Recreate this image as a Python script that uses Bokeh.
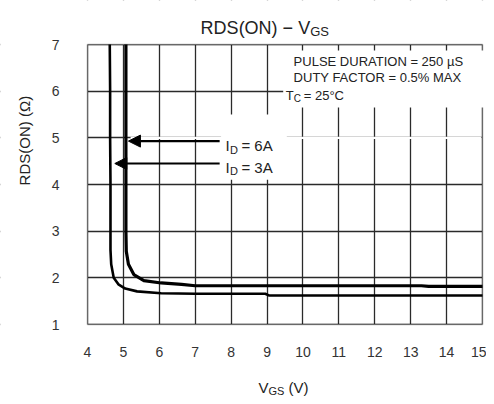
import math
from bokeh.plotting import figure
from bokeh.models import Range1d, FixedTicker, Label, Arrow, NormalHead, BoxAnnotation
from bokeh.embed import file_html
from bokeh.resources import INLINE

# ---- data ----
vgs_3a = [4.62, 4.63, 4.63, 4.64, 4.64, 4.66, 4.73, 4.86, 5.05, 5.38, 6.05, 7.0, 8.0, 8.95, 9.05, 10.0, 12.0, 15.0]
rds_3a = [7.0, 6.0, 5.0, 4.0, 2.6, 2.29, 2.0, 1.86, 1.77, 1.71, 1.67, 1.66, 1.66, 1.66, 1.625, 1.62, 1.62, 1.62]

vgs_6a = [5.07, 5.07, 5.07, 5.08, 5.14, 5.29, 5.57, 6.05, 6.62, 7.0, 9.0, 11.0, 13.3, 13.5, 15.0]
rds_6a = [7.0, 5.0, 3.0, 2.57, 2.29, 2.07, 1.94, 1.89, 1.86, 1.83, 1.83, 1.83, 1.83, 1.815, 1.815]

x_ticks = [4, 5, 6, 7, 8, 9, 10, 11, 12, 13, 14, 15]
y_ticks = [1, 2, 3, 4, 5, 6, 7]

# annotation arrows: (x_start, y, x_tip)
arrow_6a = (7.68, 4.93, 5.14)
arrow_3a = (7.68, 4.45, 4.76)

FONT = "Liberation Sans"
TXT = "#222222"

# ---- layout: the frame fills the canvas; the data area 4..15 x 1..7 sits inside it
W, H = 486, 396
L, R, T, B = 87, 482, 44, 324          # data-area edges in canvas pixels
xu = (R - L) / (x_ticks[-1] - x_ticks[0])
yu = (B - T) / (y_ticks[-1] - y_ticks[0])
x_range = Range1d(x_ticks[0] - L / xu, x_ticks[-1] + (W - R) / xu)
y_range = Range1d(y_ticks[0] - (H - B) / yu, y_ticks[-1] + T / yu)

p = figure(width=W, height=H, x_range=x_range, y_range=y_range,
           output_backend="svg", toolbar_location=None, title=None,
           min_border=0, x_axis_location="below", y_axis_location="left")
p.background_fill_color = "white"
p.border_fill_color = "white"
p.outline_line_color = None

for ax, ticks, so, loc in ((p.xaxis[0], x_ticks, 22, y_ticks[0]), (p.yaxis[0], y_ticks, 28, x_ticks[0])):
    ax.ticker = FixedTicker(ticks=ticks)
    ax.fixed_location = loc
    ax.axis_line_color = None
    ax.major_tick_line_color = None
    ax.minor_tick_line_color = None
    ax.major_tick_out = 0
    ax.major_tick_in = 0
    ax.major_label_standoff = so
    ax.major_label_text_font = FONT
    ax.major_label_text_font_size = "14px"
    ax.major_label_text_color = "#333333"

p.xgrid.ticker = FixedTicker(ticks=x_ticks)
p.ygrid.ticker = FixedTicker(ticks=y_ticks)
for g in (p.xgrid[0], p.ygrid[0]):
    g.grid_line_color = "#2a2a2a"
    g.grid_line_width = 1.3
    g.grid_line_alpha = 1.0
    g.level = "image"

def white(**kw):
    p.add_layout(BoxAnnotation(fill_color="white", fill_alpha=1, line_color=None,
                               level="underlay", **kw))

# hide the grid outside the data area
white(right=x_ticks[0])
white(left=x_ticks[-1])
white(bottom=y_ticks[-1])
white(top=y_ticks[0])

# border of the data area
p.add_layout(BoxAnnotation(left=x_ticks[0], right=x_ticks[-1], bottom=y_ticks[0], top=y_ticks[-1],
                           fill_alpha=0, line_color="black", line_width=1.6, level="underlay"))

# white areas behind the annotation texts
white(left=9.45, right=15.1, bottom=5.65, top=6.87)
white(left=7.72, right=9.55, bottom=4.1, top=5.5)
white(left=5.2, right=14.97, bottom=4.975, top=5.025)

p.line(vgs_3a, rds_3a, line_color="black", line_width=2.6, line_join="round")
p.line(vgs_6a, rds_6a, line_color="black", line_width=3.2, line_join="round")

for xs, ya, xt in (arrow_6a, arrow_3a):
    p.add_layout(Arrow(end=NormalHead(size=12, fill_color="black", line_color="black", line_width=1),
                       x_start=xs, y_start=ya, x_end=xt, y_end=ya,
                       line_color="black", line_width=2.2))

def lab(text, x, y, size, align="left", baseline="alphabetic", angle=0.0, xo=0):
    p.add_layout(Label(text=text, x=x, y=y, x_offset=xo,
                       text_font=FONT, text_font_size=size, text_color=TXT,
                       text_align=align, text_baseline=baseline, angle=angle))

# current labels
lab("I", 7.84, 4.837, "15px")
lab("D", 7.84, 4.75, "11px", xo=4.5)
lab("= 6A", 7.84, 4.837, "15px", xo=16)
lab("I", 7.84, 4.366, "15px")
lab("D", 7.84, 4.28, "11px", xo=4.5)
lab("= 3A", 7.84, 4.366, "15px", xo=16)

# conditions text
lab("PULSE DURATION = 250 µS", 9.74, 6.64, "13px")
lab("DUTY FACTOR = 0.5% MAX", 9.74, 6.30, "13px")
lab("T", 9.52, 5.91, "13px")
lab("C", 9.52, 5.84, "10px", xo=8)
lab("= 25°C", 9.52, 5.91, "13px", xo=18)

# title
lab("RDS(ON) − V", 10.2, 7.364, "18px", align="right")
lab("GS", 10.2, 7.28, "13px")

# x axis label
lab("V", 9.04, -0.35, "15px", align="right")
lab("GS", 9.04, -0.435, "11px")
lab("(V)", 9.04, -0.35, "15px", xo=20)

# y axis label
lab("RDS(ON) (Ω)", 2.25, 4.94, "15px", align="center", baseline="middle", angle=math.pi / 2)

open("out.html", "w").write(file_html(p, INLINE))
